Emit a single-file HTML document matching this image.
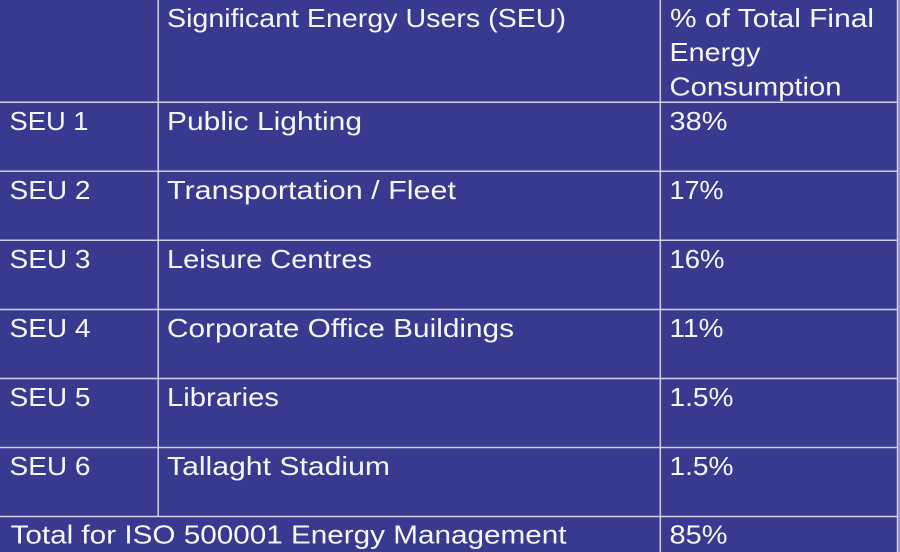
<!DOCTYPE html>
<html>
<head>
<meta charset="utf-8">
<style>
  html, body { margin: 0; padding: 0; background: #373a8e; }
  body { width: 900px; height: 552px; overflow: hidden; }
  svg { display: block; }
  text { font-family: "Liberation Sans", sans-serif; font-size: 26px; fill: #f6f6fb; }
</style>
</head>
<body>
<svg width="900" height="552" viewBox="0 0 900 552" xmlns="http://www.w3.org/2000/svg">
  <rect x="0" y="0" width="900" height="552" fill="#373a8e"/>
  <rect x="898.2" y="0" width="1.8" height="552" fill="#8e90c6"/>

  <!-- grid lines -->
  <g stroke="#cfd0e6" stroke-width="1.5">
    <line x1="0" y1="102.3" x2="898" y2="102.3"/>
    <line x1="0" y1="171.3" x2="898" y2="171.3"/>
    <line x1="0" y1="240.3" x2="898" y2="240.3"/>
    <line x1="0" y1="309.5" x2="898" y2="309.5"/>
    <line x1="0" y1="378.5" x2="898" y2="378.5"/>
    <line x1="0" y1="447.5" x2="898" y2="447.5"/>
    <line x1="0" y1="516.5" x2="898" y2="516.5"/>
    <line x1="158.2" y1="0" x2="158.2" y2="516.5"/>
    <line x1="660.3" y1="0" x2="660.3" y2="552"/>
    <line x1="897.5" y1="0" x2="897.5" y2="552"/>
  </g>

  <!-- header -->
  <text x="167" y="27" textLength="399" lengthAdjust="spacingAndGlyphs">Significant Energy Users (SEU)</text>
  <text x="670" y="27" textLength="204" lengthAdjust="spacingAndGlyphs">% of Total Final</text>
  <text x="669.5" y="61" textLength="91" lengthAdjust="spacingAndGlyphs">Energy</text>
  <text x="669.5" y="95.5" textLength="172" lengthAdjust="spacingAndGlyphs">Consumption</text>

  <!-- row 1 -->
  <text x="9.5" y="130" textLength="79" lengthAdjust="spacingAndGlyphs">SEU 1</text>
  <text x="167" y="130" textLength="195" lengthAdjust="spacingAndGlyphs">Public Lighting</text>
  <text x="669.5" y="130" textLength="58" lengthAdjust="spacingAndGlyphs">38%</text>

  <!-- row 2 -->
  <text x="9.5" y="199" textLength="81" lengthAdjust="spacingAndGlyphs">SEU 2</text>
  <text x="167" y="199" textLength="289" lengthAdjust="spacingAndGlyphs">Transportation / Fleet</text>
  <text x="669.5" y="199" textLength="54" lengthAdjust="spacingAndGlyphs">17%</text>

  <!-- row 3 -->
  <text x="9.5" y="268" textLength="81" lengthAdjust="spacingAndGlyphs">SEU 3</text>
  <text x="167" y="268" textLength="205" lengthAdjust="spacingAndGlyphs">Leisure Centres</text>
  <text x="669.5" y="268" textLength="55" lengthAdjust="spacingAndGlyphs">16%</text>

  <!-- row 4 -->
  <text x="9.5" y="337" textLength="81" lengthAdjust="spacingAndGlyphs">SEU 4</text>
  <text x="167" y="337" textLength="347" lengthAdjust="spacingAndGlyphs">Corporate Office Buildings</text>
  <text x="669.5" y="337" textLength="54" lengthAdjust="spacingAndGlyphs">11%</text>

  <!-- row 5 -->
  <text x="9.5" y="406" textLength="81" lengthAdjust="spacingAndGlyphs">SEU 5</text>
  <text x="167" y="406" textLength="112" lengthAdjust="spacingAndGlyphs">Libraries</text>
  <text x="669.5" y="406" textLength="64" lengthAdjust="spacingAndGlyphs">1.5%</text>

  <!-- row 6 -->
  <text x="9.5" y="475" textLength="81" lengthAdjust="spacingAndGlyphs">SEU 6</text>
  <text x="167" y="475" textLength="223" lengthAdjust="spacingAndGlyphs">Tallaght Stadium</text>
  <text x="669.5" y="475" textLength="64" lengthAdjust="spacingAndGlyphs">1.5%</text>

  <!-- total row -->
  <text x="10.5" y="543.5" textLength="556" lengthAdjust="spacingAndGlyphs">Total for ISO 500001 Energy Management</text>
  <text x="669.5" y="543.5" textLength="58" lengthAdjust="spacingAndGlyphs">85%</text>
</svg>
</body>
</html>
